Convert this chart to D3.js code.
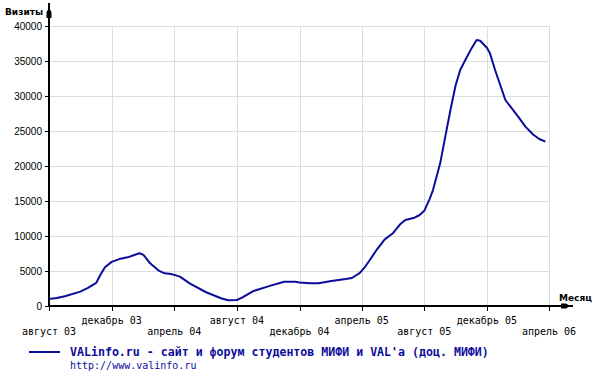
<!DOCTYPE html>
<html>
<head>
<meta charset="utf-8">
<script src="https://cdn.jsdelivr.net/npm/d3@7"></script>
<style>
  body { margin: 0; background: #fff; }
  svg { display: block; }
</style>
</head>
<body>
<svg id="chart"></svg>
<script>
// данные посещаемости (визиты)
const dates = [
  "2003-08-01", "2003-08-16", "2003-09-01", "2003-10-01", "2003-10-16", "2003-11-01", "2003-11-09", "2003-11-18",
  "2003-12-01", "2003-12-16", "2004-01-01", "2004-01-24", "2004-02-01", "2004-02-14", "2004-03-01", "2004-03-13",
  "2004-03-23", "2004-04-01", "2004-04-12", "2004-05-01", "2004-06-01", "2004-07-01", "2004-07-15", "2004-08-01",
  "2004-08-11", "2004-09-01", "2004-10-01", "2004-11-01", "2004-11-23", "2004-12-01", "2004-12-22", "2005-01-07",
  "2005-02-01", "2005-03-01", "2005-03-13", "2005-03-28", "2005-04-07", "2005-04-17", "2005-05-01", "2005-05-16",
  "2005-06-01", "2005-06-15", "2005-06-25", "2005-07-01", "2005-07-13", "2005-07-23", "2005-08-01", "2005-08-12",
  "2005-08-18", "2005-09-01", "2005-09-11", "2005-09-21", "2005-10-01", "2005-10-10", "2005-10-20", "2005-11-01",
  "2005-11-11", "2005-11-18", "2005-12-01", "2005-12-07", "2005-12-17", "2005-12-27", "2006-01-01", "2006-01-06",
  "2006-01-16", "2006-02-01", "2006-02-14", "2006-03-01", "2006-03-13", "2006-03-25"
];
const visits = [
  1000, 1150, 1400, 2050, 2600, 3300, 4430, 5530,
  6300, 6700, 6950, 7530, 7300, 6100, 5100, 4670,
  4620, 4450, 4190, 3240, 2000, 1100, 810, 860,
  1190, 2100, 2800, 3470, 3470, 3350, 3240, 3240,
  3570, 3850, 4000, 4700, 5530, 6570, 8100, 9520,
  10400, 11670, 12290, 12400, 12620, 13000, 13600, 15380,
  16570, 20380, 24190, 28000, 31500, 33710, 35140, 36800,
  38000, 37900, 36900, 36100, 33710, 31570, 30500, 29430,
  28470, 26950, 25620, 24500, 23860, 23470
];

// подписи оси X
const tickDates = ["2003-08-01", "2003-12-01", "2004-04-01", "2004-08-01", "2004-12-01",
                   "2005-04-01", "2005-08-01", "2005-12-01", "2006-04-01"];
const tickLabels = ["август 03", "декабрь 03", "апрель 04", "август 04", "декабрь 04",
                    "апрель 05", "август 05", "декабрь 05", "апрель 06"];
const yTicks = [0, 5000, 10000, 15000, 20000, 25000, 30000, 35000, 40000];

const legendTitle = "VALinfo.ru - сайт и форум студентов МИФИ и VAL'a (доц. МИФИ)";
const legendUrl = "http://www.valinfo.ru";

(() => {
const width = 594, height = 376;
const m = { left: 49, right: 549, top: 26, bottom: 306 };
const lineColor = "#0c0c9c";

const svg = d3.select("#chart").attr("width", width).attr("height", height);

const parse = d3.utcParse("%Y-%m-%d");
const data = dates.map((d, i) => ({ date: parse(d), value: visits[i] }));
const ticks = tickDates.map(parse);

const x = d3.scaleUtc().domain([ticks[0], ticks[ticks.length - 1]]).range([m.left, m.right]);
const y = d3.scaleLinear().domain([0, 40000]).range([m.bottom, m.top]);

// сетка
const grid = svg.append("g").attr("stroke", "#dcdcdc").attr("stroke-width", 1);
grid.selectAll("line.h")
  .data(yTicks.filter(d => d > 0))
  .join("line")
  .attr("class", "h")
  .attr("x1", m.left).attr("x2", m.right)
  .attr("y1", d => Math.round(y(d)) + 0.5).attr("y2", d => Math.round(y(d)) + 0.5);
grid.selectAll("line.v")
  .data(ticks.slice(1))
  .join("line")
  .attr("class", "v")
  .attr("x1", d => Math.round(x(d)) + 0.5).attr("x2", d => Math.round(x(d)) + 0.5)
  .attr("y1", m.top).attr("y2", m.bottom);

// линия данных
const line = d3.line()
  .x(d => x(d.date))
  .y(d => y(d.value))
  .curve(d3.curveLinear);

svg.append("path")
  .datum(data)
  .attr("fill", "none")
  .attr("stroke", lineColor)
  .attr("stroke-width", 2)
  .attr("stroke-linejoin", "round")
  .attr("d", line);

// ось Y
const yAxis = svg.append("g");
yAxis.append("line")
  .attr("x1", m.left).attr("x2", m.left)
  .attr("y1", m.bottom + 1).attr("y2", 3)
  .attr("stroke", "#000").attr("stroke-width", 2);
yAxis.append("path")
  .attr("d", `M${m.left - 2.5},18 L${m.left + 2.5},18 L${m.left + 2.5},12 L${m.left},8 L${m.left - 2.5},12 Z`)
  .attr("fill", "#000");
yAxis.selectAll("line.t")
  .data(yTicks)
  .join("line")
  .attr("class", "t")
  .attr("x1", m.left - 4).attr("x2", m.left)
  .attr("y1", d => Math.round(y(d)) + 0.5).attr("y2", d => Math.round(y(d)) + 0.5)
  .attr("stroke", "#000");
yAxis.selectAll("text")
  .data(yTicks)
  .join("text")
  .attr("x", 42)
  .attr("y", d => y(d) + 4)
  .attr("text-anchor", "end")
  .style("font-family", "'Liberation Sans', Arial, sans-serif")
  .style("font-size", "10px")
  .text(d => d);

// ось X
const xAxis = svg.append("g");
xAxis.append("line")
  .attr("x1", m.left - 1).attr("x2", 573)
  .attr("y1", m.bottom).attr("y2", m.bottom)
  .attr("stroke", "#000").attr("stroke-width", 2);
xAxis.append("path")
  .attr("d", `M561,${m.bottom - 2.5} L561,${m.bottom + 2.5} L566,${m.bottom + 2.5} L570,${m.bottom} L566,${m.bottom - 2.5} Z`)
  .attr("fill", "#000");
xAxis.selectAll("line.t")
  .data(ticks)
  .join("line")
  .attr("class", "t")
  .attr("x1", d => Math.round(x(d)) + 0.5).attr("x2", d => Math.round(x(d)) + 0.5)
  .attr("y1", m.bottom).attr("y2", m.bottom + 5)
  .attr("stroke", "#000");
xAxis.selectAll("text")
  .data(ticks)
  .join("text")
  .attr("x", d => x(d))
  .attr("y", (d, i) => i % 2 === 0 ? 335 : 324)
  .attr("text-anchor", "middle")
  .style("font-family", "'DejaVu Sans Mono', monospace")
  .style("font-size", "10px")
  .text((d, i) => tickLabels[i]);

// подписи осей
svg.append("text")
  .attr("x", 5).attr("y", 15)
  .style("font-family", "'DejaVu Sans', sans-serif")
  .style("font-size", "9px")
  .style("font-weight", "bold")
  .text("Визиты");
svg.append("text")
  .attr("x", 559).attr("y", 301)
  .style("font-family", "'DejaVu Sans', sans-serif")
  .style("font-size", "9px")
  .style("font-weight", "bold")
  .text("Месяц");

// легенда
svg.append("line")
  .attr("x1", 29).attr("x2", 60)
  .attr("y1", 352).attr("y2", 352)
  .attr("stroke", lineColor).attr("stroke-width", 2);
svg.append("text")
  .attr("x", 70).attr("y", 356)
  .attr("fill", lineColor)
  .style("font-family", "'DejaVu Sans Mono', monospace")
  .style("font-size", "11.6px")
  .style("font-weight", "bold")
  .text(legendTitle);
svg.append("text")
  .attr("x", 70).attr("y", 369)
  .attr("fill", lineColor)
  .style("font-family", "'DejaVu Sans Mono', monospace")
  .style("font-size", "10px")
  .text(legendUrl);
})();
</script>
</body>
</html>
